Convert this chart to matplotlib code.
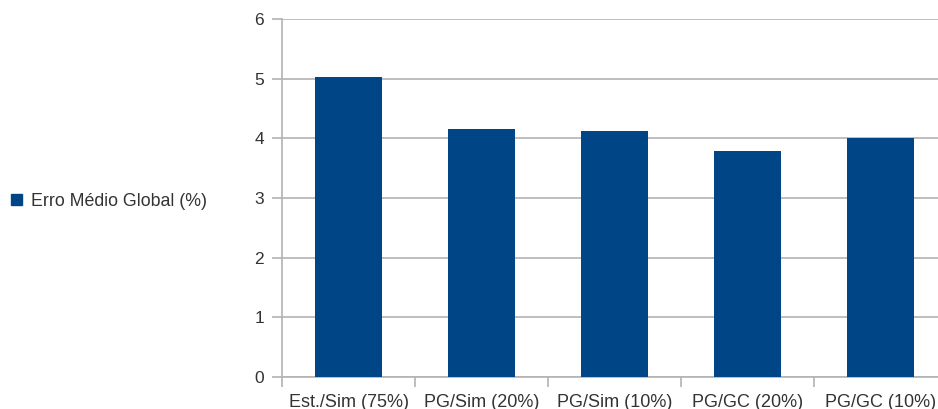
import matplotlib
matplotlib.use("Agg")
import matplotlib.pyplot as plt
from matplotlib.patches import Patch
import numpy as np

categories = ["Est./Sim (75%)", "PG/Sim (20%)", "PG/Sim (10%)", "PG/GC (20%)", "PG/GC (10%)"]
erro_medio = [5.02, 4.16, 4.12, 3.79, 4.01]
series_name = "Erro Médio Global (%)"
y_ticks = [0, 1, 2, 3, 4, 5, 6]

plt.rcParams["font.family"] = ["Liberation Sans", "DejaVu Sans"]
bar_color = "#004586"
grid_color = "#b3b3b3"
text_color = "#333333"

fig = plt.figure(figsize=(9.38, 4.09), dpi=100)
ax = fig.add_axes([282 / 938, 1 - 377 / 409, 665 / 938, 358 / 409])

x = np.arange(len(categories))
ax.bar(x, erro_medio, width=0.5, color=bar_color, zorder=3)

ax.set_xlim(-0.5, len(categories) - 0.5)
ax.set_ylim(0, 6)
ax.set_yticks(y_ticks)
ax.yaxis.grid(True, color=grid_color, linewidth=1.2, zorder=0)
ax.set_axisbelow(True)

ax.set_xticks(x)
ax.set_xticklabels(categories)
ax.set_xticks(np.arange(len(categories) + 1) - 0.5, minor=True)
ax.tick_params(axis="x", which="major", length=0, pad=12, labelsize=13, labelcolor=text_color)
ax.tick_params(axis="x", which="minor", length=7, color=grid_color, width=1.2)
ax.tick_params(axis="y", length=7, color=grid_color, width=1.2, pad=6, labelsize=12.5, labelcolor=text_color)

for side in ("top", "right"):
    ax.spines[side].set_visible(False)
for side in ("left", "bottom"):
    ax.spines[side].set_color(grid_color)
    ax.spines[side].set_linewidth(1.2)

handle = Patch(facecolor=bar_color, edgecolor=bar_color)
fig.legend([handle], [series_name], loc="center left",
           bbox_to_anchor=(11 / 938, 1 - 201 / 409), frameon=False,
           fontsize=12.8, handlelength=0.6, handleheight=0.6,
           handletextpad=0.55, borderpad=0, borderaxespad=0,
           labelcolor=text_color)

fig.savefig("out.png", dpi=100)
